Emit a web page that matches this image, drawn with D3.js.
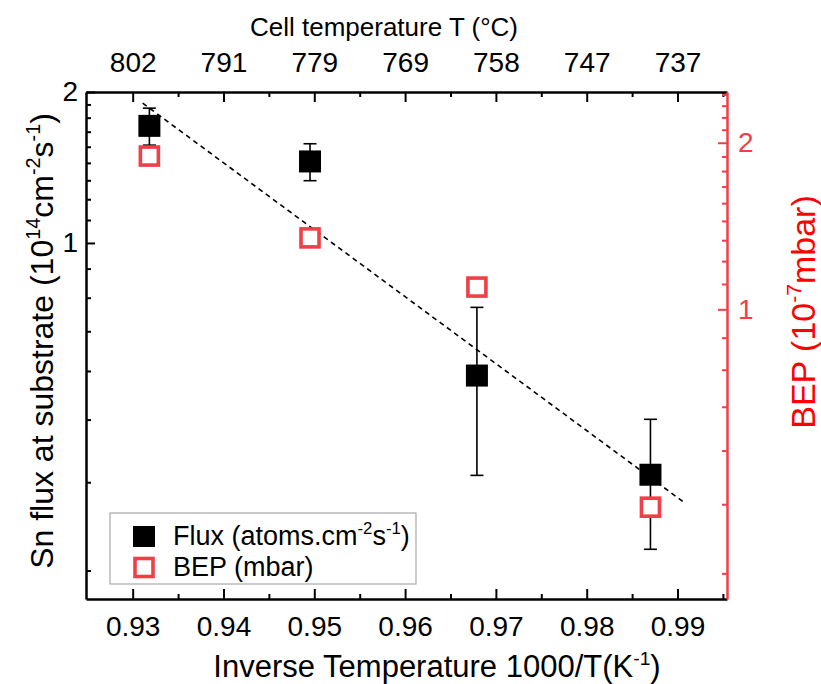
<!DOCTYPE html>
<html>
<head>
<meta charset="utf-8">
<script src="https://cdn.jsdelivr.net/npm/d3@7"></script>
<style>
  body { margin: 0; background: #fff; }
  svg { display: block; font-family: "Liberation Sans", Arial, sans-serif; }
</style>
</head>
<body>
<svg width="821" height="684"></svg>
<script>
// data
const invT = [0.93184, 0.94953, 0.96791, 0.98702];      // 1000/T (K^-1), T = 800..740 °C
const flux = [1.712, 1.454, 0.544, 0.345];              // 10^14 cm^-2 s^-1
const fluxErr = [0.145, 0.123, 0.200, 0.100];
const bep = [1.892, 1.346, 1.097, 0.439];               // 10^-7 mbar
const fitX = [0.9311, 0.9906];
const fitY = [1.90, 0.305];

const xTicks = [0.93, 0.94, 0.95, 0.96, 0.97, 0.98, 0.99];
const xMinorTicks = [0.935, 0.945, 0.955, 0.965, 0.975, 0.985, 0.995];
const topTickLabels = ["802", "791", "779", "769", "758", "747", "737"];
const leftTicks = [1, 2];
const leftMinorTicks = [2/9, 3/9, 4/9, 5/9, 6/9, 7/9, 8/9, 1+1/9, 1+2/9, 1+3/9, 1+4/9, 1+5/9, 1+6/9, 1+7/9, 1+8/9];
const rightTicks = [1, 2];
const rightMinorTicks = [3/9, 4/9, 5/9, 6/9, 7/9, 8/9, 1+1/9, 1+2/9, 1+3/9, 1+4/9, 1+5/9, 1+6/9, 1+7/9, 1+8/9, 2+1/9, 2+2/9, 2+3/9, 2+4/9];

const svg = d3.select("svg");
const L = 86, R = 727, T = 92, B = 599;
const RED = "#ef3f47";

const x = d3.scaleLinear().domain([0.92486, 0.99545]).range([L, R]);
const yL = d3.scaleLog().domain([0.195, 2]).range([B, T]);
const yR = d3.scaleLog().domain([0.2996, 2.47]).range([B, T]);

// text with superscripts: parts = [[text, isSup], ...]
function richText(sel, parts, fs) {
  parts.forEach(([t, sup], i) => {
    const ts = sel.append("tspan").text(t);
    if (sup) ts.attr("font-size", fs * 0.62).attr("dy", -fs * 0.4);
    else if (i > 0 && parts[i - 1][1]) ts.attr("dy", fs * 0.4);
  });
}

function styleAxis(g, color, width) {
  g.select(".domain").attr("stroke", color).attr("stroke-width", width);
  g.selectAll(".tick line").attr("stroke", color).attr("stroke-width", 2);
  g.selectAll(".tick text").attr("fill", color).attr("font-size", 28)
    .attr("font-family", "Liberation Sans, Arial, sans-serif");
}

// bottom axis
const gB = svg.append("g").attr("transform", `translate(0,${B})`)
  .call(d3.axisBottom(x).tickValues(xTicks).tickSizeInner(-10).tickSizeOuter(0).tickPadding(17)
    .tickFormat(d3.format(".2f")));
styleAxis(gB, "#000", 2.5);
svg.append("g").attr("transform", `translate(0,${B})`)
  .call(d3.axisBottom(x).tickValues(xMinorTicks.filter(v => x(v) < R - 2)).tickSize(-5).tickFormat(""))
  .call(g => { g.select(".domain").remove(); g.selectAll("line").attr("stroke-width", 2); });

// top axis (cell temperature)
const gT = svg.append("g").attr("transform", `translate(0,${T})`)
  .call(d3.axisTop(x).tickValues(xTicks).tickSizeInner(-10).tickSizeOuter(0).tickPadding(20)
    .tickFormat((d, i) => topTickLabels[i]));
styleAxis(gT, "#000", 2.5);
svg.append("g").attr("transform", `translate(0,${T})`)
  .call(d3.axisTop(x).tickValues(xMinorTicks.filter(v => x(v) < R - 2)).tickSize(-5).tickFormat(""))
  .call(g => { g.select(".domain").remove(); g.selectAll("line").attr("stroke-width", 2); });

// left axis (flux)
const gL = svg.append("g").attr("transform", `translate(${L},0)`)
  .call(d3.axisLeft(yL).tickValues(leftTicks).tickSizeInner(-9).tickSizeOuter(0).tickPadding(8)
    .tickFormat(d3.format("d")));
styleAxis(gL, "#000", 2.5);
svg.append("g").attr("transform", `translate(${L},0)`)
  .call(d3.axisLeft(yL).tickValues(leftMinorTicks).tickSize(-5).tickFormat(""))
  .call(g => { g.select(".domain").remove(); g.selectAll("line").attr("stroke-width", 2); });

// right axis (BEP)
const gR = svg.append("g").attr("transform", `translate(${R},0)`)
  .call(d3.axisRight(yR).tickValues(rightTicks).tickSizeInner(-9).tickSizeOuter(0).tickPadding(11)
    .tickFormat(d3.format("d")));
styleAxis(gR, RED, 2.5);
svg.append("g").attr("transform", `translate(${R},0)`)
  .call(d3.axisRight(yR).tickValues(rightMinorTicks).tickSize(-5).tickFormat(""))
  .call(g => { g.select(".domain").remove(); g.selectAll("line").attr("stroke", RED).attr("stroke-width", 2); });

// linear fit (dashed)
svg.append("path")
  .attr("d", d3.line().x(d => x(d[0])).y(d => yL(d[1]))(d3.zip(fitX, fitY)))
  .attr("fill", "none").attr("stroke", "#000").attr("stroke-width", 1.6).attr("stroke-dasharray", "5,4");

// error bars
const eb = svg.append("g").attr("stroke", "#000").attr("stroke-width", 1.6);
invT.forEach((v, i) => {
  const cx = x(v), y1 = yL(flux[i] + fluxErr[i]), y2 = yL(flux[i] - fluxErr[i]);
  eb.append("line").attr("x1", cx).attr("x2", cx).attr("y1", y1).attr("y2", y2);
  eb.append("line").attr("x1", cx - 6.5).attr("x2", cx + 6.5).attr("y1", y1).attr("y2", y1);
  eb.append("line").attr("x1", cx - 6.5).attr("x2", cx + 6.5).attr("y1", y2).attr("y2", y2);
});

// BEP markers (open red squares)
svg.append("g").selectAll("rect").data(d3.zip(invT, bep)).join("rect")
  .attr("x", d => x(d[0]) - 9).attr("y", d => yR(d[1]) - 9)
  .attr("width", 18).attr("height", 18)
  .attr("fill", "#fff").attr("stroke", RED).attr("stroke-width", 3.6);

// flux markers (filled black squares)
svg.append("g").selectAll("rect").data(d3.zip(invT, flux)).join("rect")
  .attr("x", d => x(d[0]) - 11).attr("y", d => yL(d[1]) - 11)
  .attr("width", 22).attr("height", 22).attr("fill", "#000");

// legend
const lg = svg.append("g");
lg.append("rect").attr("x", 110).attr("y", 513).attr("width", 306).attr("height", 71)
  .attr("fill", "#fff").attr("stroke", "#a8a8a8").attr("stroke-width", 1.2);
lg.append("rect").attr("x", 133).attr("y", 526).attr("width", 22).attr("height", 21).attr("fill", "#000");
lg.append("rect").attr("x", 135).attr("y", 558.5).attr("width", 18).attr("height", 18)
  .attr("fill", "#fff").attr("stroke", RED).attr("stroke-width", 3.6);
richText(lg.append("text").attr("x", 173).attr("y", 545).attr("font-size", 27),
  [["Flux (atoms.cm", false], ["-2", true], ["s", false], ["-1", true], [")", false]], 27);
richText(lg.append("text").attr("x", 173).attr("y", 576).attr("font-size", 27),
  [["BEP (mbar)", false]], 27);

// axis titles
richText(svg.append("text").attr("x", 437).attr("y", 677).attr("text-anchor", "middle").attr("font-size", 31),
  [["Inverse Temperature 1000/T(K", false], ["-1", true], [")", false]], 31);
svg.append("text").attr("x", 384).attr("y", 36).attr("text-anchor", "middle").attr("font-size", 26)
  .text("Cell temperature T (°C)");
richText(svg.append("text").attr("transform", "translate(53,341) rotate(-90)")
  .attr("text-anchor", "middle").attr("font-size", 32),
  [["Sn flux at substrate (10", false], ["14", true], ["cm", false], ["-2", true], ["s", false], ["-1", true], [")", false]], 32);
richText(svg.append("text").attr("transform", "translate(815,312) rotate(-90)")
  .attr("text-anchor", "middle").attr("font-size", 34).attr("fill", "#ff0000"),
  [["BEP (10", false], ["-7", true], ["mbar)", false]], 34);
</script>
</body>
</html>
